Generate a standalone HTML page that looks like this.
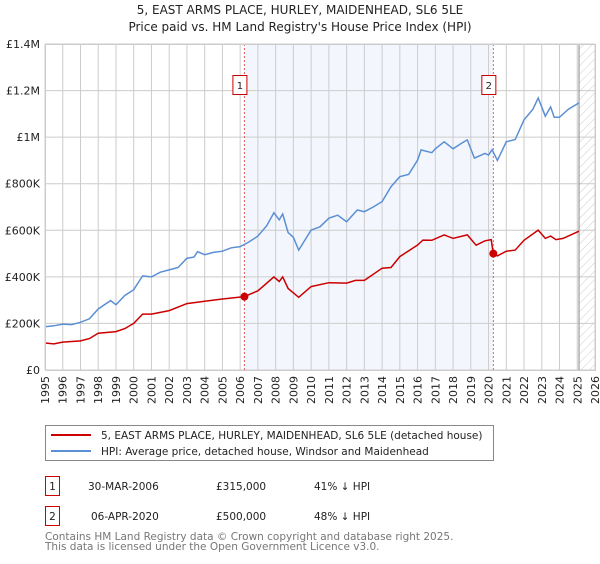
<!DOCTYPE html>
<html><head><meta charset="utf-8"><style>
body{margin:0;background:#fff;width:600px;height:560px;overflow:hidden;font-family:"DejaVu Sans","Liberation Sans",sans-serif}
svg text{font-family:"DejaVu Sans","Liberation Sans",sans-serif}
</style></head><body>
<svg id="chart" width="600" height="560">
<defs><pattern id="hatch" width="6" height="6" patternUnits="userSpaceOnUse" patternTransform="rotate(45)"><line x1="0" y1="0" x2="0" y2="6" stroke="#ccc" stroke-width="1"/></pattern></defs>
<text x="300" y="14" text-anchor="middle" font-size="12" fill="#222">5, EAST ARMS PLACE, HURLEY, MAIDENHEAD, SL6 5LE</text>
<text x="300" y="31" text-anchor="middle" font-size="12" fill="#222">Price paid vs. HM Land Registry's House Price Index (HPI)</text>
<g id="plot"></g>
<g>
<rect x="45.5" y="425.5" width="448" height="35" fill="#fff" stroke="#888"/>
<line x1="51" y1="435" x2="91" y2="435" stroke="#cc0000" stroke-width="2"/>
<text x="101" y="439" font-size="10.5" fill="#222">5, EAST ARMS PLACE, HURLEY, MAIDENHEAD, SL6 5LE (detached house)</text>
<line x1="51" y1="451" x2="91" y2="451" stroke="#5b8fd4" stroke-width="2"/>
<text x="101" y="455" font-size="10.5" fill="#222">HPI: Average price, detached house, Windsor and Maidenhead</text>
</g>
<g font-size="10.5" fill="#222">
<rect x="45.5" y="476.5" width="14" height="19" fill="#fff" stroke="#cc0000"/><text x="52.5" y="490" text-anchor="middle">1</text>
<text x="88" y="490">30-MAR-2006</text><text x="216" y="490">£315,000</text><text x="314" y="490">41% ↓ HPI</text>
<rect x="45.5" y="506.5" width="14" height="19" fill="#fff" stroke="#cc0000"/><text x="52.5" y="520" text-anchor="middle">2</text>
<text x="91" y="520">06-APR-2020</text><text x="216" y="520">£500,000</text><text x="314" y="520">48% ↓ HPI</text>
</g>
<text x="45" y="540" font-size="10.5" fill="#777">Contains HM Land Registry data © Crown copyright and database right 2025.</text>
<text x="45" y="550" font-size="10.5" fill="#777">This data is licensed under the Open Government Licence v3.0.</text>
</svg>
<script>
const yTicks=[0,200000,400000,600000,800000,1000000,1200000,1400000];
const yTickLabels=["£0","£200K","£400K","£600K","£800K","£1M","£1.2M","£1.4M"];
const years=[1995,1996,1997,1998,1999,2000,2001,2002,2003,2004,2005,2006,2007,2008,2009,2010,2011,2012,2013,2014,2015,2016,2017,2018,2019,2020,2021,2022,2023,2024,2025,2026];
const hpiDates=[1995,1995.5,1996,1996.5,1997,1997.5,1998,1998.7,1999,1999.5,2000,2000.5,2001,2001.5,2002,2002.5,2003,2003.4,2003.6,2004,2004.5,2005,2005.5,2006,2006.5,2007,2007.5,2007.9,2008.2,2008.4,2008.7,2009,2009.3,2010,2010.5,2011,2011.5,2012,2012.6,2013,2013.5,2014,2014.5,2015,2015.5,2016,2016.2,2016.8,2017,2017.5,2018,2018.5,2018.8,2019.2,2019.8,2020,2020.2,2020.5,2021,2021.5,2022,2022.5,2022.8,2023.2,2023.5,2023.7,2024,2024.5,2025.1];
const hpiValues=[186000,190000,197000,195000,205000,220000,262000,298000,280000,320000,345000,404000,400000,420000,430000,440000,480000,485000,508000,495000,505000,510000,525000,530000,550000,575000,620000,675000,645000,670000,590000,570000,515000,601000,615000,652000,665000,637000,687000,680000,700000,723000,787000,830000,840000,902000,945000,933000,950000,980000,950000,975000,988000,910000,930000,923000,946000,900000,980000,990000,1074000,1120000,1168000,1090000,1130000,1085000,1085000,1120000,1147000];
const ppDates=[1995,1995.5,1996,1997,1997.5,1998,1999,1999.5,2000,2000.5,2001,2002,2003,2004,2005,2006.24,2007,2007.9,2008.2,2008.4,2008.7,2009.3,2010,2011,2012,2012.5,2013,2014,2014.5,2015,2016,2016.3,2016.8,2017.5,2018,2018.8,2019.3,2019.8,2020.15,2020.27,2020.5,2021,2021.5,2022,2022.8,2023.2,2023.5,2023.8,2024.2,2025.1];
const ppValues=[116000,112000,120000,125000,135000,158000,165000,178000,200000,240000,240000,255000,285000,295000,305000,315000,340000,400000,380000,400000,350000,312000,358000,375000,373000,385000,385000,437000,440000,487000,537000,558000,557000,580000,565000,580000,536000,555000,560000,500000,490000,510000,515000,557000,601000,565000,575000,560000,565000,596000];
const sales=[{d:2006.24,v:315000,n:"1"},{d:2020.27,v:500000,n:"2"}];
const X0=45,X1=595,Y0=370,Y1=44;
const xs=d=>X0+(d-1995)/(2026-1995)*(X1-X0);
const ys=v=>Y0-v/1400000*(Y0-Y1);
const NS="http://www.w3.org/2000/svg";
const g=document.getElementById("plot");
function mk(t,a){const e=document.createElementNS(NS,t);for(const k in a)e.setAttribute(k,a[k]);g.appendChild(e);return e;}
let e=mk("rect",{x:xs(sales[0].d),y:Y1,width:xs(sales[1].d)-xs(sales[0].d),height:Y0-Y1,fill:"#eef3fc",opacity:0.7});


e=mk("rect",{x:xs(2025.1),y:Y1,width:X1-xs(2025.1),height:Y0-Y1,fill:"url(#hatch)"});


years.forEach(y=>{
 const l=mk("line",{x1:xs(y),x2:xs(y),y1:Y1,y2:Y0,stroke:"#ccc","stroke-width":1});
 
 
 const t=mk("text",{x:0,y:0,"font-size":11,fill:"#222","text-anchor":"end",transform:`translate(${xs(y)+4},376) rotate(-90)`});
 t.textContent=y;
 
 
});
yTicks.forEach((v,i)=>{
 const l=mk("line",{x1:X0,x2:X1,y1:ys(v),y2:ys(v),stroke:"#ccc","stroke-width":1});
 
 
 const t=mk("text",{x:40,y:ys(v)+4,"font-size":11,fill:"#222","text-anchor":"end"});
 t.textContent=yTickLabels[i];
 
 
});
e=mk("line",{x1:xs(2025.1),x2:xs(2025.1),y1:Y1,y2:Y0,stroke:"#888","stroke-width":1});


sales.forEach(s=>{
 const l=mk("line",{x1:xs(s.d),x2:xs(s.d),y1:Y1,y2:Y0,stroke:"#e06060","stroke-width":1,"stroke-dasharray":"2,2"});
 
 
 const r=mk("rect",{x:xs(s.d)-11.5,y:75.5,width:14,height:19,fill:"#fff",stroke:"#cc0000"});
 
 
 const t=mk("text",{x:xs(s.d)-4.5,y:89,"font-size":10,fill:"#222","text-anchor":"middle"});
 t.textContent=s.n;
 
 
});
function path(ds,vs){return ds.map((d,i)=>(i?"L":"M")+xs(d).toFixed(1)+","+ys(vs[i]).toFixed(1)).join("");}
e=mk("path",{d:path(hpiDates,hpiValues),fill:"none",stroke:"#5b8fd4","stroke-width":1.5});


e=mk("path",{d:path(ppDates,ppValues),fill:"none",stroke:"#cc0000","stroke-width":1.5});


sales.forEach(s=>{
 const c=mk("circle",{cx:xs(s.d),cy:ys(s.v),r:4,fill:"#cc0000"});
 
 
});
e=mk("rect",{x:X0+0.5,y:Y1+0.5,width:X1-X0,height:Y0-Y1,fill:"none",stroke:"#ccc"});


</script>
</body></html>
